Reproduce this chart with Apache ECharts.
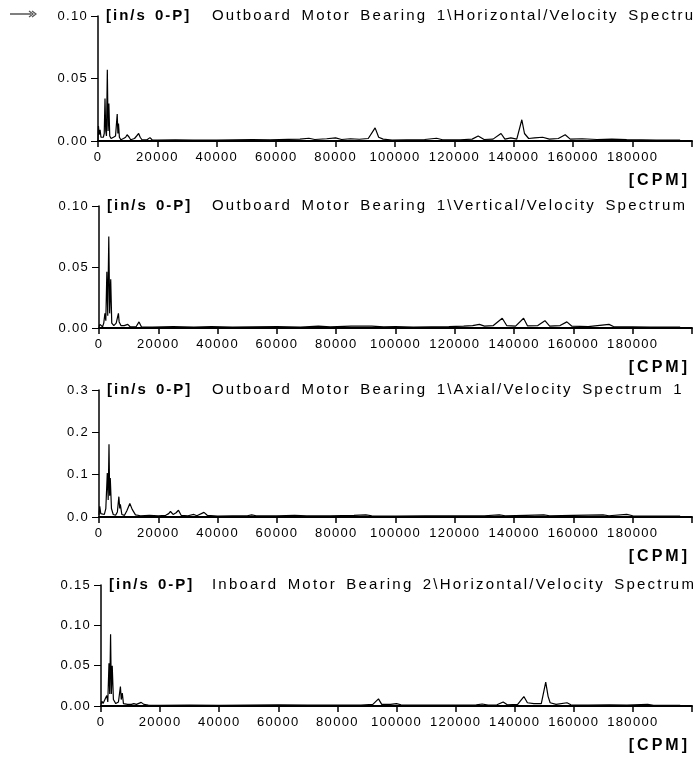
<!DOCTYPE html>
<html>
<head>
<meta charset="utf-8">
<script src="https://cdn.jsdelivr.net/npm/echarts@6/dist/echarts.min.js"></script>
<style>
  html, body { margin: 0; padding: 0; background: #ffffff; }
  #chart { width: 695px; height: 761px; }
</style>
</head>
<body>
<div id="chart"></div>
<script>
// ---- data -------------------------------------------------------------
const unitLabel = '[in/s 0-P]';
const freqUnit = '[CPM]';

const spectrumTitles = [
  'Outboard Motor Bearing 1\\Horizontal/Velocity Spectrum 1',
  'Outboard Motor Bearing 1\\Vertical/Velocity Spectrum 1',
  'Outboard Motor Bearing 1\\Axial/Velocity Spectrum 1',
  'Inboard Motor Bearing 2\\Horizontal/Velocity Spectrum 1'
];

// [frequency CPM, amplitude in/s 0-P]
const obHorizontal = [
  [0, 0.000], [150, 0.012], [400, 0.005], [700, 0.009], [1000, 0.003], [1400, 0.002],
  [1800, 0.003], [2100, 0.006], [2360, 0.034], [2600, 0.008], [2850, 0.004], [3140, 0.057],
  [3400, 0.008], [3660, 0.030], [3950, 0.004], [4400, 0.002], [5200, 0.003], [5900, 0.004],
  [6470, 0.0215], [6700, 0.006], [6900, 0.014], [7200, 0.003], [7700, 0.001], [8600, 0.002],
  [9300, 0.003], [9800, 0.005], [10130, 0.0062], [10500, 0.003], [11000, 0.001], [12300, 0.002],
  [13000, 0.004], [13690, 0.006], [14200, 0.003], [14800, 0.001], [16500, 0.001], [17500, 0.0027],
  [18200, 0.001], [20000, 0.0008], [26000, 0.001], [32000, 0.0007], [40000, 0.0008], [46000, 0.001],
  [52000, 0.0012], [58000, 0.001], [64000, 0.0013], [68000, 0.0015], [71000, 0.0022], [73000, 0.0012],
  [77000, 0.0018], [80000, 0.0025], [82000, 0.0012], [85000, 0.0018], [88000, 0.0014], [91000, 0.002],
  [93300, 0.0105], [94500, 0.003], [96000, 0.0015], [99000, 0.0008], [104000, 0.001], [110000, 0.0012],
  [114000, 0.0022], [116000, 0.001], [122000, 0.001], [126000, 0.0015], [128000, 0.004], [130000, 0.0012],
  [133000, 0.0015], [135700, 0.006], [137000, 0.0015], [139000, 0.0025], [141000, 0.0015], [142700, 0.017],
  [143600, 0.006], [145000, 0.002], [147000, 0.0025], [149700, 0.003], [152000, 0.0015], [155000, 0.002],
  [157300, 0.005], [159000, 0.0015], [163000, 0.0018], [168000, 0.0012], [173000, 0.0015], [178000, 0.0012],
  [183000, 0.001], [188000, 0.0008], [196000, 0.0008]
];

const obVertical = [
  [0, 0.001], [300, 0.003], [700, 0.002], [1200, 0.001], [1600, 0.004], [2000, 0.012],
  [2300, 0.006], [2650, 0.046], [2950, 0.010], [3300, 0.075], [3600, 0.012], [3950, 0.040],
  [4300, 0.004], [5000, 0.002], [5800, 0.004], [6550, 0.012], [6800, 0.005], [7000, 0.006],
  [7400, 0.002], [8500, 0.002], [9700, 0.003], [10500, 0.001], [12500, 0.001], [13500, 0.005],
  [14300, 0.001], [18000, 0.0008], [25000, 0.0012], [32000, 0.0008], [38000, 0.0012], [45000, 0.0008],
  [52000, 0.001], [60000, 0.0012], [68000, 0.0008], [74000, 0.0015], [78000, 0.001], [85000, 0.0015],
  [92000, 0.0015], [96000, 0.001], [100000, 0.0012], [106000, 0.0008], [112000, 0.001], [118000, 0.0012],
  [123000, 0.0015], [126000, 0.002], [128300, 0.003], [130000, 0.0015], [133000, 0.002], [136000, 0.008],
  [137500, 0.002], [140500, 0.0015], [143200, 0.008], [144500, 0.0018], [148000, 0.002], [150400, 0.006],
  [152000, 0.0015], [155500, 0.002], [157800, 0.005], [159500, 0.0015], [165000, 0.0012], [172000, 0.003],
  [173500, 0.0012], [180000, 0.001], [186000, 0.0008], [196000, 0.0008]
];

const obAxial = [
  [0, 0.005], [250, 0.025], [600, 0.008], [1200, 0.004], [1800, 0.006], [2300, 0.020],
  [2800, 0.104], [3100, 0.040], [3370, 0.172], [3600, 0.050], [3800, 0.092], [4200, 0.020],
  [4800, 0.006], [5600, 0.004], [6200, 0.012], [6700, 0.048], [7000, 0.020], [7200, 0.030],
  [7700, 0.006], [8600, 0.004], [9400, 0.015], [10400, 0.032], [11200, 0.018], [12300, 0.005],
  [14000, 0.003], [17000, 0.004], [20000, 0.003], [22500, 0.004], [23500, 0.008], [24100, 0.013],
  [25000, 0.006], [26000, 0.010], [26800, 0.016], [27700, 0.004], [30000, 0.003], [32000, 0.006],
  [33000, 0.003], [35400, 0.011], [36500, 0.004], [40000, 0.002], [45000, 0.003], [50000, 0.003],
  [51500, 0.005], [53000, 0.003], [60000, 0.003], [66000, 0.004], [70000, 0.003], [78000, 0.003],
  [86000, 0.004], [90000, 0.005], [92000, 0.003], [100000, 0.002], [110000, 0.0025], [120000, 0.003],
  [130000, 0.003], [135000, 0.005], [137000, 0.003], [144000, 0.004], [150000, 0.005], [152000, 0.003],
  [160000, 0.004], [170000, 0.005], [172000, 0.003], [178000, 0.006], [180000, 0.003], [188000, 0.002],
  [196000, 0.002]
];

const ibHorizontal = [
  [0, 0.002], [300, 0.006], [700, 0.003], [1300, 0.002], [1950, 0.013], [2300, 0.005],
  [2700, 0.053], [2950, 0.015], [3240, 0.0888], [3500, 0.015], [3800, 0.050], [4200, 0.008],
  [5000, 0.003], [5900, 0.005], [6570, 0.024], [6850, 0.008], [7200, 0.016], [7600, 0.003],
  [9000, 0.002], [10300, 0.002], [11100, 0.003], [12000, 0.002], [13600, 0.0045], [14500, 0.002],
  [16000, 0.001], [20000, 0.0008], [30000, 0.001], [40000, 0.0008], [50000, 0.0012], [60000, 0.0015],
  [70000, 0.0012], [80000, 0.001], [88000, 0.001], [92000, 0.002], [93900, 0.0088], [95000, 0.002],
  [98000, 0.002], [100000, 0.003], [101500, 0.0015], [110000, 0.001], [120000, 0.001], [127000, 0.0015],
  [129000, 0.0025], [131000, 0.001], [134000, 0.0015], [136100, 0.005], [137500, 0.0015], [141000, 0.002],
  [143100, 0.0117], [144300, 0.004], [146500, 0.003], [149000, 0.003], [150500, 0.0296], [151300, 0.012],
  [152000, 0.004], [154000, 0.002], [157700, 0.004], [159000, 0.0015], [165000, 0.001], [172000, 0.0015],
  [178000, 0.0012], [185000, 0.002], [187000, 0.0008], [196000, 0.0008]
];

const spectra = [obHorizontal, obVertical, obAxial, ibHorizontal];
const yMax = [0.10, 0.10, 0.3, 0.15];
const yStep = [0.05, 0.05, 0.1, 0.05];
const yDecimals = [2, 2, 1, 2];
const xMax = 200000;
const xStep = 20000;
const xLastLabel = 180000;

// ---- layout -----------------------------------------------------------
const panelBoxes = [
  { left: 98,  top: 16,  height: 125 },
  { left: 99,  top: 206, height: 122 },
  { left: 99,  top: 390, height: 127 },
  { left: 101, top: 585, height: 121 }
];
const pxPerKcpm = 3.094;
const FONT = 'Liberation Sans';

// The plotting package used wide, loosely tracked type; emulate its spacing.
(function () {
  const proto = CanvasRenderingContext2D.prototype;
  const baseFill = proto.fillText;
  proto.fillText = function (text, x, y, maxW) {
    const f = this.font || '';
    let ls = '0px', ws = '0px';
    if (/bold/.test(f) && /16px/.test(f)) { ls = '3px'; }
    else if (/bold/.test(f) && /15px/.test(f)) { ls = '2px'; ws = '2px'; }
    else if (/15px/.test(f)) { ls = '2.2px'; ws = '3px'; }
    else if (/13px/.test(f)) { ls = '1.3px'; }
    if ('letterSpacing' in this) this.letterSpacing = ls;
    if ('wordSpacing' in this) this.wordSpacing = ws;
    return maxW === undefined ? baseFill.call(this, text, x, y) : baseFill.call(this, text, x, y, maxW);
  };
})();

const grids = [], xAxes = [], yAxes = [], series = [], graphics = [];

panelBoxes.forEach((b, i) => {
  grids.push({ left: b.left, top: b.top, height: b.height, width: xMax / 1000 * pxPerKcpm });
  xAxes.push({
    type: 'value', gridIndex: i, min: 0, max: xMax, interval: xStep,
    axisLine: { show: true, onZero: false, lineStyle: { color: '#000', width: 2 } },
    axisTick: { show: true, length: 6, inside: false, lineStyle: { color: '#000', width: 1.5 } },
    axisLabel: {
      margin: 10, color: '#000', fontFamily: FONT, fontSize: 13,
      formatter: v => (v > xLastLabel ? '' : String(v))
    },
    splitLine: { show: false }
  });
  yAxes.push({
    type: 'value', gridIndex: i, min: 0, max: yMax[i], interval: yStep[i],
    axisLine: { show: true, lineStyle: { color: '#000', width: 1.5 } },
    axisTick: { show: true, length: 7, lineStyle: { color: '#000', width: 1 } },
    axisLabel: {
      margin: 10, color: '#000', fontFamily: FONT, fontSize: 13,
      formatter: v => v.toFixed(yDecimals[i])
    },
    splitLine: { show: false }
  });
  series.push({
    type: 'line', xAxisIndex: i, yAxisIndex: i, data: spectra[i],
    showSymbol: false, symbol: 'none', animation: false,
    lineStyle: { color: '#000', width: 1.2 }
  });

  const zeroY = b.top + b.height;
  graphics.push({
    type: 'text', x: b.left + 8, y: b.top,
    style: { text: unitLabel, fontFamily: FONT, fontSize: 15, fontWeight: 'bold', fill: '#000', align: 'left', verticalAlign: 'middle' }
  });
  graphics.push({
    type: 'text', x: 212, y: b.top,
    style: { text: spectrumTitles[i], fontFamily: FONT, fontSize: 15, fill: '#000', align: 'left', verticalAlign: 'middle' }
  });
  graphics.push({
    type: 'text', x: 690, y: zeroY + 40,
    style: { text: freqUnit, fontFamily: FONT, fontSize: 16, fontWeight: 'bold', fill: '#000', align: 'right', verticalAlign: 'middle' }
  });
});

// small pointer glyph in the upper-left corner
graphics.push({ type: 'line', shape: { x1: 10, y1: 14, x2: 31, y2: 14 }, style: { stroke: '#555', lineWidth: 1.5 } });
graphics.push({ type: 'polyline', shape: { points: [[29, 11], [33, 14], [29, 17]] }, style: { stroke: '#555', lineWidth: 1.2, fill: null } });
graphics.push({ type: 'polyline', shape: { points: [[32, 11], [36, 14], [32, 17]] }, style: { stroke: '#555', lineWidth: 1.2, fill: null } });

const chart = echarts.init(document.getElementById('chart'), null, { renderer: 'canvas' });
chart.setOption({
  animation: false,
  backgroundColor: '#ffffff',
  grid: grids,
  xAxis: xAxes,
  yAxis: yAxes,
  series: series,
  graphic: graphics
});
</script>
</body>
</html>
